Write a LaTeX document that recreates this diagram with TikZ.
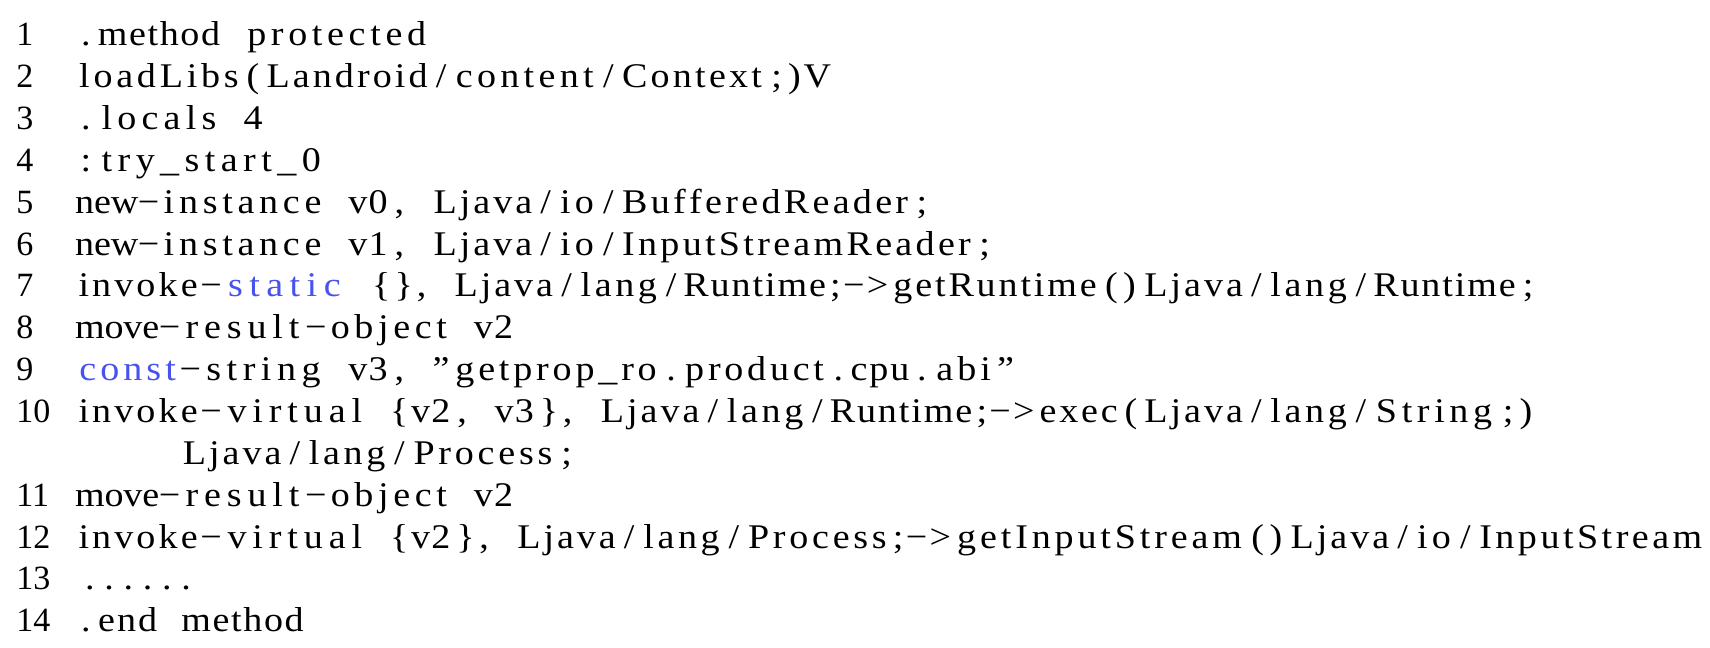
\documentclass[tikz,border=0pt]{standalone}
\usepackage{fontspec}
\setmainfont{Liberation Serif}
\newfontfamily\codefont{Liberation Serif}[FakeStretch=1.1]
\definecolor{kwblue}{RGB}{72,82,236}
\ExplSyntaxOn
\dim_new:N \g_cw_dim
\dim_gset:Nn \g_cw_dim {10.45pt}
\NewDocumentCommand \tk { m }
  {
    \hbox_to_wd:nn { \g_cw_dim * \tl_count:n {#1} }
      { \hss \tl_map_inline:nn {#1} { ##1 \hss } }
  }
\NewDocumentCommand \sk { } { \skip_horizontal:N \g_cw_dim }
\ExplSyntaxOff
\newcommand{\kw}[1]{{\color{kwblue}\tk{#1}}}
\tikzset{
  codeline/.style={anchor=base west, inner sep=0pt, font=\codefont\fontsize{17.3pt}{20.93pt}\selectfont},
  lnum/.style={anchor=base west, inner sep=0pt, font=\fontsize{17pt}{20.93pt}\selectfont}
}
\begin{document}
\begin{tikzpicture}[x=1pt,y=1pt]
\useasboundingbox (0,0) rectangle (855,-324);
% line numbers
\node[lnum] (n1)  at (8,-22.85)  {1};
\node[lnum] (n2)  at (8,-43.78)  {2};
\node[lnum] (n3)  at (8,-64.71)  {3};
\node[lnum] (n4)  at (8,-85.64)  {4};
\node[lnum] (n5)  at (8,-106.57) {5};
\node[lnum] (n6)  at (8,-127.50) {6};
\node[lnum] (n7)  at (8,-148.43) {7};
\node[lnum] (n8)  at (8,-169.36) {8};
\node[lnum] (n9)  at (8,-190.29) {9};
\node[lnum] (n10) at (8,-211.22) {10};
\node[lnum] (n11) at (8,-253.08) {11};
\node[lnum] (n12) at (8,-274.01) {12};
\node[lnum] (n13) at (8,-294.94) {13};
\node[lnum] (n14) at (8,-315.87) {14};
% code lines
\node[codeline] (c1) at (37.5,-22.85) {\tk{.}\tk{method}\sk\tk{protected}};
\node[codeline] (c2) at (37.5,-43.78) {\tk{loadLibs}\tk{(}\tk{Landroid}\tk{/}\tk{content}\tk{/}\tk{Context}\tk{;)}\tk{V}};
\node[codeline] (c3) at (37.5,-64.71) {\tk{.}\tk{locals}\sk\tk{4}};
\node[codeline] (c4) at (37.5,-85.64) {\tk{:}\tk{try\_start\_0}};
\node[codeline] (c5) at (37.5,-106.57) {\tk{new}\tk{−}\tk{instance}\sk\tk{v0}\tk{,}\sk\tk{Ljava}\tk{/}\tk{io}\tk{/}\tk{BufferedReader}\tk{;}};
\node[codeline] (c6) at (37.5,-127.50) {\tk{new}\tk{−}\tk{instance}\sk\tk{v1}\tk{,}\sk\tk{Ljava}\tk{/}\tk{io}\tk{/}\tk{InputStreamReader}\tk{;}};
\node[codeline] (c7) at (37.5,-148.43) {\tk{invoke}\tk{−}\kw{static}\sk\tk{\{\},}\sk\tk{Ljava}\tk{/}\tk{lang}\tk{/}\tk{Runtime}\tk{;−>}\tk{getRuntime}\tk{()}\tk{Ljava}\tk{/}\tk{lang}\tk{/}\tk{Runtime}\tk{;}};
\node[codeline] (c8) at (37.5,-169.36) {\tk{move}\tk{−}\tk{result}\tk{−}\tk{object}\sk\tk{v2}};
\node[codeline] (c9) at (37.5,-190.29) {\kw{const}\tk{−}\tk{string}\sk\tk{v3}\tk{,}\sk\tk{”}\tk{getprop\_ro}\tk{.}\tk{product}\tk{.}\tk{cpu}\tk{.}\tk{abi}\tk{”}};
\node[codeline] (c10) at (37.5,-211.22) {\tk{invoke}\tk{−}\tk{virtual}\sk\tk{\{}\tk{v2}\tk{,}\sk\tk{v3}\tk{\},}\sk\tk{Ljava}\tk{/}\tk{lang}\tk{/}\tk{Runtime}\tk{;−>}\tk{exec}\tk{(}\tk{Ljava}\tk{/}\tk{lang}\tk{/}\tk{String}\tk{;)}};
\node[codeline] (c10b) at (37.5,-232.15) {\sk\sk\sk\sk\sk\tk{Ljava}\tk{/}\tk{lang}\tk{/}\tk{Process}\tk{;}};
\node[codeline] (c11) at (37.5,-253.08) {\tk{move}\tk{−}\tk{result}\tk{−}\tk{object}\sk\tk{v2}};
\node[codeline] (c12) at (37.5,-274.01) {\tk{invoke}\tk{−}\tk{virtual}\sk\tk{\{}\tk{v2}\tk{\},}\sk\tk{Ljava}\tk{/}\tk{lang}\tk{/}\tk{Process}\tk{;−>}\tk{getInputStream}\tk{()}\tk{Ljava}\tk{/}\tk{io}\tk{/}\tk{InputStream}};
\node[codeline] (c13) at (37.5,-294.94) {\tk{......}};
\node[codeline] (c14) at (37.5,-315.87) {\tk{.}\tk{end}\sk\tk{method}};
\end{tikzpicture}
\end{document}
